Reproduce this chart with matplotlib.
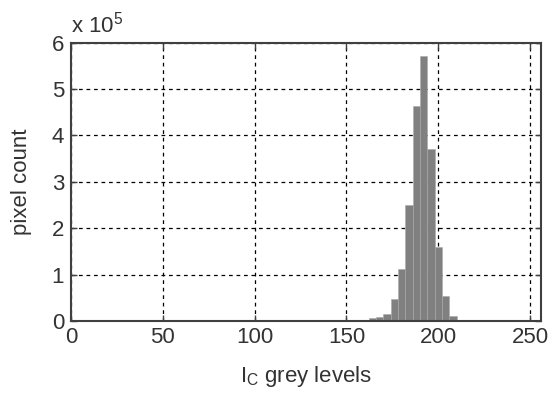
import numpy as np
import matplotlib
matplotlib.use("Agg")
import matplotlib.pyplot as plt
from matplotlib.ticker import FuncFormatter

# histogram of I_C grey levels, 4-level bins (centres), counts in pixels
centres = [152, 156, 160, 164, 168, 172, 176, 180, 184, 188, 192,
           196, 200, 204, 208, 212, 216, 220, 224, 228]
counts = [2000, 2500, 3000, 6000, 8500, 15000, 48000, 112000, 251000,
          464000, 571000, 371000, 160000, 54000, 11000, 2000, 2000,
          2000, 2000, 2000]
xticks = [0, 50, 100, 150, 200, 250]
yticks = [0, 1e5, 2e5, 3e5, 4e5, 5e5, 6e5]

plt.rcParams["font.family"] = ["Liberation Sans", "DejaVu Sans"]
txt = "#333333"
fs = 16

fig = plt.figure(figsize=(5.5, 3.95), dpi=100)
ax = fig.add_axes([0.129, 0.187, 0.855, 0.705])
ax.bar(centres, counts, width=4, color="#808080", edgecolor="#a8a8a8",
       linewidth=0.4, zorder=2)

ax.set_xlim(0, 256)
ax.set_ylim(0, 6e5)
ax.set_xticks(xticks)
ax.set_yticks(yticks)
ax.yaxis.set_major_formatter(FuncFormatter(lambda v, p: f"{v / 1e5:.0f}"))
ax.grid(True, color="black", ls=(0, (3, 3)), lw=0.9, zorder=1)
ax.set_axisbelow(True)
ax.tick_params(direction="in", length=4, width=1, colors="#404040",
               labelsize=fs, labelcolor=txt, top=True, right=True)
ax.tick_params(axis="x", pad=4)
ax.tick_params(axis="y", pad=5)
for s in ax.spines.values():
    s.set_color("#404040")
    s.set_linewidth(1.5)

ax.set_xlabel("I$_\\mathregular{C}$ grey levels", fontsize=fs, color=txt,
              labelpad=12)
ax.set_ylabel("pixel count", fontsize=fs, color=txt, labelpad=14)
ax.text(0.0, 1.02, "x 10$^\\mathregular{5}$", transform=ax.transAxes,
        fontsize=fs, color=txt, ha="left", va="bottom")

fig.savefig("out.png", dpi=100)
